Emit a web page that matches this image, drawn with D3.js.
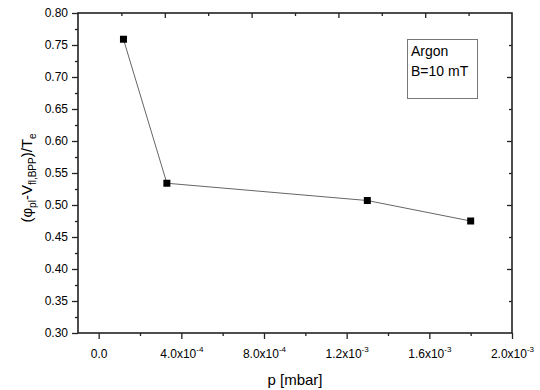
<!doctype html>
<html>
<head>
  <script src="https://d3js.org/d3.v7.min.js"></script>
  <style>
    body { margin: 0; background: #fff; }
    svg { font-family: Arial, 'Liberation Sans', sans-serif; }
  </style>
</head>
<body>
  <svg id="chart" width="540" height="390"></svg>
  <script>
    // data
    var pressure = [1.2e-4, 3.3e-4, 1.3e-3, 1.8e-3];
    var ratio = [0.759, 0.534, 0.507, 0.475];

    var yTicks = [0.30, 0.35, 0.40, 0.45, 0.50, 0.55, 0.60, 0.65, 0.70, 0.75, 0.80];
    var yMinor = [0.325, 0.375, 0.425, 0.475, 0.525, 0.575, 0.625, 0.675, 0.725, 0.775];
    var xTicks = [0, 4e-4, 8e-4, 1.2e-3, 1.6e-3, 2e-3];
    var xMinor = [2e-4, 6e-4, 1e-3, 1.4e-3, 1.8e-3];
    var xTickMant = ["0.0", "4.0x10", "8.0x10", "1.2x10", "1.6x10", "2.0x10"];
    var xTickExp = ["", "-4", "-4", "-3", "-3", "-3"];

    var pLeft = 78, pRight = 512, pTop = 13, pBottom = 333;
    var svg = d3.select("#chart");

    var x = d3.scaleLinear().domain([-1e-4, 2e-3]).range([pLeft, pRight]);
    var y = d3.scaleLinear().domain([0.30, 0.80]).range([pBottom, pTop]);
    // unlabelled opposite axes (default 0..10 range)
    var xt = d3.scaleLinear().domain([0, 10]).range([pLeft, pRight]);
    var yr = d3.scaleLinear().domain([0, 10]).range([pTop, pBottom]);

    function styleAxis(g) {
      g.select(".domain").remove();
      g.selectAll(".tick line").attr("stroke", "#222").attr("stroke-width", 1.3);
    }

    // left axis
    svg.append("g").attr("transform", "translate(" + pLeft + ",0)")
      .call(d3.axisLeft(y).tickValues(yMinor).tickSize(3).tickFormat(""))
      .call(styleAxis);
    svg.append("g").attr("transform", "translate(" + pLeft + ",0)")
      .call(d3.axisLeft(y).tickValues(yTicks).tickSize(6).tickPadding(4).tickFormat(d3.format(".2f")))
      .call(styleAxis)
      .selectAll("text").attr("font-size", 12).attr("fill", "#000")
      .attr("font-family", "Arial, 'Liberation Sans', sans-serif");

    // bottom axis
    svg.append("g").attr("transform", "translate(0," + pBottom + ")")
      .call(d3.axisBottom(x).tickValues(xMinor).tickSize(3).tickFormat(""))
      .call(styleAxis);
    var bx = svg.append("g").attr("transform", "translate(0," + pBottom + ")")
      .call(d3.axisBottom(x).tickValues(xTicks).tickSize(6).tickFormat(""))
      .call(styleAxis);
    bx.selectAll(".tick").each(function (d, i) {
      var t = d3.select(this).append("text")
        .attr("y", 25).attr("text-anchor", "middle")
        .attr("font-size", 12).attr("fill", "#000")
        .attr("font-family", "Arial, 'Liberation Sans', sans-serif");
      t.append("tspan").text(xTickMant[i]);
      if (xTickExp[i]) t.append("tspan").attr("font-size", 8).attr("dy", -6).text(xTickExp[i]);
    });

    // top axis, ticks inward
    svg.append("g").attr("transform", "translate(0," + pTop + ")")
      .call(d3.axisBottom(xt).tickValues([1, 3, 5, 7, 9]).tickSize(3).tickFormat(""))
      .call(styleAxis);
    svg.append("g").attr("transform", "translate(0," + pTop + ")")
      .call(d3.axisBottom(xt).tickValues([2, 4, 6, 8]).tickSize(5).tickFormat(""))
      .call(styleAxis);

    // right axis, ticks inward
    svg.append("g").attr("transform", "translate(" + pRight + ",0)")
      .call(d3.axisLeft(yr).tickValues([1, 3, 5, 7, 9]).tickSize(3).tickFormat(""))
      .call(styleAxis);
    svg.append("g").attr("transform", "translate(" + pRight + ",0)")
      .call(d3.axisLeft(yr).tickValues([2, 4, 6, 8]).tickSize(5).tickFormat(""))
      .call(styleAxis);

    // frame
    svg.append("rect")
      .attr("x", pLeft).attr("y", pTop)
      .attr("width", pRight - pLeft).attr("height", pBottom - pTop)
      .attr("fill", "none").attr("stroke", "#222").attr("stroke-width", 1.6);

    // line + markers
    var pts = pressure.map((p, i) => [p, ratio[i]]);
    svg.append("path")
      .datum(pts)
      .attr("d", d3.line().x(d => x(d[0])).y(d => y(d[1])))
      .attr("fill", "none").attr("stroke", "#666").attr("stroke-width", 1);

    svg.selectAll("rect.pt")
      .data(pts)
      .enter()
      .append("rect")
      .attr("class", "pt")
      .attr("x", d => x(d[0]) - 3.5)
      .attr("y", d => y(d[1]) - 3.5)
      .attr("width", 7).attr("height", 7)
      .attr("fill", "#000");

    // legend box
    svg.append("rect")
      .attr("x", 407.5).attr("y", 39.5).attr("width", 70).attr("height", 59)
      .attr("fill", "#fff").attr("stroke", "#777").attr("stroke-width", 1);
    svg.append("text").attr("x", 411).attr("y", 56).attr("font-size", 14).text("Argon");
    svg.append("text").attr("x", 411).attr("y", 76).attr("font-size", 14).text("B=10 mT");

    // axis titles
    svg.append("text")
      .attr("x", (pLeft + pRight) / 2).attr("y", 385)
      .attr("text-anchor", "middle").attr("font-size", 15)
      .text("p [mbar]");

    var yl = svg.append("text")
      .attr("transform", "translate(32,178) rotate(-90)")
      .attr("text-anchor", "middle").attr("font-size", 15);
    yl.append("tspan").text("(\u03c6");
    yl.append("tspan").attr("font-size", 10).attr("dy", 4).text("pl");
    yl.append("tspan").attr("dy", -4).text("-V");
    yl.append("tspan").attr("font-size", 10).attr("dy", 4).text("fl,BPP");
    yl.append("tspan").attr("dy", -4).text(")/T");
    yl.append("tspan").attr("font-size", 10).attr("dy", 4).text("e");
  </script>
</body>
</html>
